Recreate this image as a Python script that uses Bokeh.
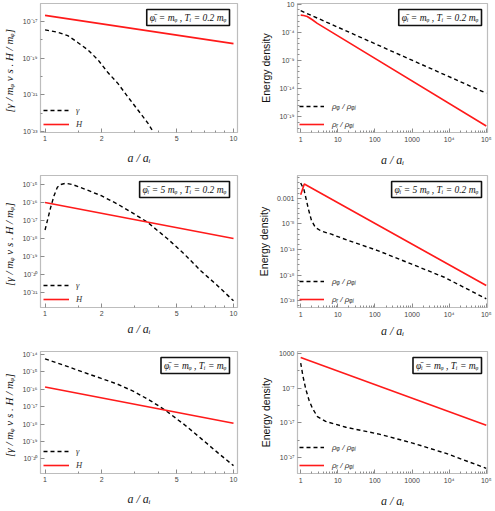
from bokeh.plotting import figure
from bokeh.layouts import gridplot
from bokeh.models import (FixedTicker, CustomJSTickFormatter, Label,
                          Legend, LegendItem, Range1d)
from bokeh.embed import file_html
from bokeh.resources import INLINE

# ---------------- data ----------------
# Row 1: phi_i = m_phi, T_i = 0.2 m_phi
p1_gamma_a = [1.0, 1.168, 1.32, 1.49, 1.69, 1.91, 2.15, 2.44, 2.75, 3.11, 3.52, 3.74, 3.95]
p1_gamma = [3.5e-18, 2.6e-18, 1.7e-18, 7.2e-19, 2.8e-19, 8.1e-20, 1.7e-20, 4.1e-21, 7.8e-22,
            1.5e-22, 2.8e-23, 1.0e-23, 4.0e-24]
p1_H_a = [1.0, 10.0]
p1_H = [2.15e-17, 6.2e-19]

p2_phi_a = [1.0, 1.0e5]
p2_phi = [0.7, 1.6e-15]
p2_rad_a = [1.0, 1.2, 1.5, 2.06, 2.8, 1.0e5]
p2_rad = [0.115, 0.1, 0.066, 0.0174, 3.9e-3, 2.5e-21]

# Row 2: phi_i = 5 m_phi, T_i = 0.2 m_phi
p3_gamma_a = [1.0, 1.072, 1.117, 1.163, 1.21, 1.288, 1.398, 1.61, 1.976, 2.42, 2.97, 3.5, 4.48, 5.48, 6.7, 8.25, 10.0]
p3_gamma = [2.95e-18, 5.5e-17, 2.45e-16, 7.1e-16, 1.0e-15, 1.17e-15, 1.0e-15, 5.75e-16, 2.45e-16, 8.3e-17,
            2.3e-17, 7.9e-18, 9.3e-19, 1.35e-19, 1.6e-20, 2.3e-21, 3.4e-22]
p3_H_a = [1.0, 10.0]
p3_H = [1.0e-16, 1.0e-18]

p4_phi_a = [1.0, 1.23, 1.42, 1.64, 1.94, 2.48, 3.6, 6.7, 18.7, 119.0, 947.0, 7400.0, 1.0e5]
p4_phi = [1.0, 4.3e-2, 4.7e-4, 5.0e-6, 5.4e-8, 2.0e-9, 4.0e-10, 1.0e-10, 6.3e-12, 6.3e-14, 1.6e-16, 4.0e-19, 2.5e-23]
p4_rad_a = [1.0, 1.25, 1.0e5]
p4_rad = [5.0e-3, 0.63, 1.0e-20]

# Row 3: phi_i = m_phi, T_i = m_phi
p5_gamma_a = [1.0, 1.31, 1.605, 1.97, 2.42, 2.97, 3.65, 4.14, 4.49, 5.51, 6.76, 8.3, 10.0]
p5_gamma = [5.75e-15, 2.1e-15, 9.5e-16, 4.4e-16, 2.0e-16, 7.4e-17, 2.1e-17, 8.9e-18, 4.8e-18, 8.9e-19,
            1.4e-19, 2.1e-20, 4.0e-21]
p5_H_a = [1.0, 10.0]
p5_H = [1.35e-16, 1.1e-18]

p6_phi_a = [1.0, 1.15, 1.37, 1.68, 2.07, 2.82, 4.7, 16.5, 130.0, 1040.0, 8300.0, 1.0e5]
p6_phi = [2.0, 3.2e-4, 5.6e-8, 3.2e-11, 1.6e-13, 6.3e-16, 2.5e-17, 5.0e-19, 5.0e-21, 1.3e-23, 1.3e-26, 6.3e-31]
p6_rad_a = [1.0, 1.0e5]
p6_rad = [76.0, 1.8e-18]

box_texts = ["\u03c6\u0304\u1d62 = m\u1d69 , T\u1d62 = 0.2 m\u1d69",
             "\u03c6\u0304\u1d62 = 5 m\u1d69 , T\u1d62 = 0.2 m\u1d69",
             "\u03c6\u0304\u1d62 = m\u1d69 , T\u1d62 = m\u1d69"]
left_legend = ["\u03b3", "H"]
right_legend = ["\u03c1\u1d69 / \u03c1\u1d69\u1d62", "\u03c1\u1d63 / \u03c1\u1d69\u1d62"]
x_label = "a / a\u1d62"
left_ylabel = "[\u03b3 / m\u1d69  v s .  H / m\u1d69]"
right_ylabel = "Energy density"

left_xticks = [1, 2, 5, 10]
right_xticks = [1, 10, 100, 1000, 1e4, 1e5]
p1_yticks = [1e-23, 1e-21, 1e-19, 1e-17]
p3_yticks = [1e-21, 1e-20, 1e-19, 1e-18, 1e-17, 1e-16, 1e-15]
p5_yticks = [1e-20, 1e-19, 1e-18, 1e-17, 1e-16, 1e-15, 1e-14]
p2_yticks = [1e-19, 1e-14, 1e-9, 1e-4, 10]
p4_yticks = [1e-23, 1e-18, 1e-13, 1e-8, 1e-3]
p6_yticks = [1e-27, 1e-17, 1e-7, 1e3]

# ---------------- styling ----------------
FRAME = "#bdbdbd"
TICKC = "#8c8c8c"
LABC = "#444444"
RED = "#ff1a1a"

FMT_JS = """
const sup = {"-": "\u207b", "0": "\u2070", "1": "\u00b9", "2": "\u00b2", "3": "\u00b3",
             "4": "\u2074", "5": "\u2075", "6": "\u2076", "7": "\u2077", "8": "\u2078", "9": "\u2079"};
const e = Math.round(Math.log10(tick));
if (e >= 0 && e <= 3) { return String(Math.round(Math.pow(10, e))); }
if (e == -3) { return "0.001"; }
let s = "";
for (const c of String(e)) { s += sup[c]; }
return "10" + s;
"""
PLAIN_JS = "return String(Math.round(tick * 1000) / 1000);"

left_xminor = [1.5, 3, 4, 6, 7, 8, 9]
right_xminor = [m * 10 ** k for k in range(5) for m in range(2, 10)]


def style_axis(ax):
    ax.axis_line_color = FRAME
    ax.major_tick_line_color = TICKC
    ax.minor_tick_line_color = TICKC
    ax.major_tick_in = 4
    ax.major_tick_out = 0
    ax.minor_tick_in = 2
    ax.minor_tick_out = 0
    ax.major_label_text_font_size = "7px"
    ax.major_label_text_color = LABC
    ax.major_label_text_font = "Liberation Sans"
    ax.major_label_standoff = 3


def make_panel(w, h, borders, xr, yr, xt, xm, xfmt, yt, ym, ylabel, left, xstand):
    p = figure(width=w, height=h, x_axis_type="log", y_axis_type="log",
               x_range=Range1d(*xr), y_range=Range1d(*yr),
               output_backend="svg", toolbar_location=None,
               min_border_left=borders[0], min_border_right=borders[1],
               min_border_top=borders[2], min_border_bottom=borders[3])
    p.grid.visible = False
    p.outline_line_color = FRAME
    p.outline_line_width = 1.2
    p.xaxis.ticker = FixedTicker(ticks=xt, minor_ticks=xm)
    p.yaxis.ticker = FixedTicker(ticks=yt, minor_ticks=ym)
    p.xaxis.formatter = CustomJSTickFormatter(code=xfmt)
    p.yaxis.formatter = CustomJSTickFormatter(code=FMT_JS)
    style_axis(p.xaxis[0])
    style_axis(p.yaxis[0])
    p.xaxis.axis_label = x_label
    p.xaxis.axis_label_text_font = "Liberation Serif"
    p.xaxis.axis_label_text_font_style = "italic"
    p.xaxis.axis_label_text_font_size = "12px"
    p.xaxis.axis_label_text_color = "#222222"
    p.xaxis.axis_label_standoff = xstand
    p.yaxis.axis_label = ylabel
    if left:
        p.yaxis.axis_label_text_font = "Liberation Serif"
        p.yaxis.axis_label_text_font_style = "italic"
        p.yaxis.axis_label_text_font_size = "11px"
    else:
        p.yaxis.axis_label_text_font = "Liberation Sans"
        p.yaxis.axis_label_text_font_style = "normal"
        p.yaxis.axis_label_text_font_size = "10.5px"
    p.yaxis.axis_label_text_color = "#111111"
    p.yaxis.axis_label_standoff = 4
    return p


def add_box(p, text, xr, yr, dx):
    lab = Label(x=xr[1], y=yr[1], x_offset=dx, y_offset=-6, text=text,
                text_align="right", text_baseline="top",
                text_font="Liberation Serif", text_font_style="italic",
                text_font_size="9.5px", text_color="#111111",
                background_fill_color="white", border_line_color="#111111",
                border_line_width=1.6, padding=3)
    p.add_layout(lab)


def add_legend(p, renderers, labels, left):
    items = [LegendItem(label=l, renderers=[r]) for l, r in zip(labels, renderers)]
    if left:
        leg = Legend(items=items, location="bottom_left", glyph_width=26, glyph_height=10,
                     spacing=4, padding=4, margin=3, label_standoff=7,
                     label_text_font="Liberation Serif", label_text_font_style="italic",
                     label_text_font_size="8.5px")
    else:
        leg = Legend(items=items, location="bottom_left", glyph_width=25, glyph_height=12,
                     spacing=6, padding=4, margin=2, label_standoff=8,
                     label_text_font="Liberation Sans", label_text_font_style="italic",
                     label_text_font_size="8px")
    leg.background_fill_alpha = 0
    leg.border_line_color = None
    leg.label_text_color = "#333333"
    p.add_layout(leg)


LW = 245
RW = 250
row_h = [170, 170, 170]
row_tb = [(3, 38), (5, 33), (11, 30)]
row_xstand = [7, 3, 7]

left_xr = (0.946, 10.5)
right_xr = (0.82, 1.08e5)

left_data = [
    (p1_gamma_a, p1_gamma, p1_H_a, p1_H, (10 ** -23.05, 10 ** -16.02), p1_yticks,
     [1e-22, 1e-20, 1e-18, 1e-16]),
    (p3_gamma_a, p3_gamma, p3_H_a, p3_H, (10 ** -21.84, 10 ** -14.5), p3_yticks, []),
    (p5_gamma_a, p5_gamma, p5_H_a, p5_H, (10 ** -20.85, 10 ** -13.82), p5_yticks, []),
]
right_data = [
    (p2_phi_a, p2_phi, p2_rad_a, p2_rad, (10 ** -21.76, 10 ** 1.12), p2_yticks,
     [10.0 ** k for k in range(-21, 2)]),
    (p4_phi_a, p4_phi, p4_rad_a, p4_rad, (10 ** -24.3, 10 ** 1.45), p4_yticks,
     [10.0 ** k for k in range(-24, 2)]),
    (p6_phi_a, p6_phi, p6_rad_a, p6_rad, (10 ** -31.7, 10 ** 3.64), p6_yticks,
     [10.0 ** k for k in (-32, -22, -12, -2)]),
]

rows = []
for i in range(3):
    t, b = row_tb[i]
    ga, g, ha, hv, yr, yt, ym = left_data[i]
    pl = make_panel(LW, row_h[i], (40, 8, t, b), left_xr, yr, left_xticks, left_xminor,
                    PLAIN_JS, yt, ym, left_ylabel, True, row_xstand[i])
    r1 = pl.line(ga, g, line_color="black", line_width=1.4, line_dash="4 3")
    r2 = pl.line(ha, hv, line_color=RED, line_width=1.6)
    add_legend(pl, [r1, r2], left_legend, True)
    add_box(pl, box_texts[i], left_xr, yr, -8)

    pa, pv, ra, rv, yr2, yt2, ym2 = right_data[i]
    pr = make_panel(RW, row_h[i], (52, 8, t, b), right_xr, yr2, right_xticks, right_xminor,
                    FMT_JS, yt2, ym2, right_ylabel, False, row_xstand[i])
    s1 = pr.line(pa, pv, line_color="black", line_width=1.4, line_dash="4 3")
    s2 = pr.line(ra, rv, line_color=RED, line_width=1.6)
    add_legend(pr, [s1, s2], right_legend, False)
    add_box(pr, box_texts[i], right_xr, yr2, -6)
    rows.append([pl, pr])

grid = gridplot(rows, toolbar_location=None, merge_tools=False)

open("out.html", "w").write(file_html(grid, INLINE))
